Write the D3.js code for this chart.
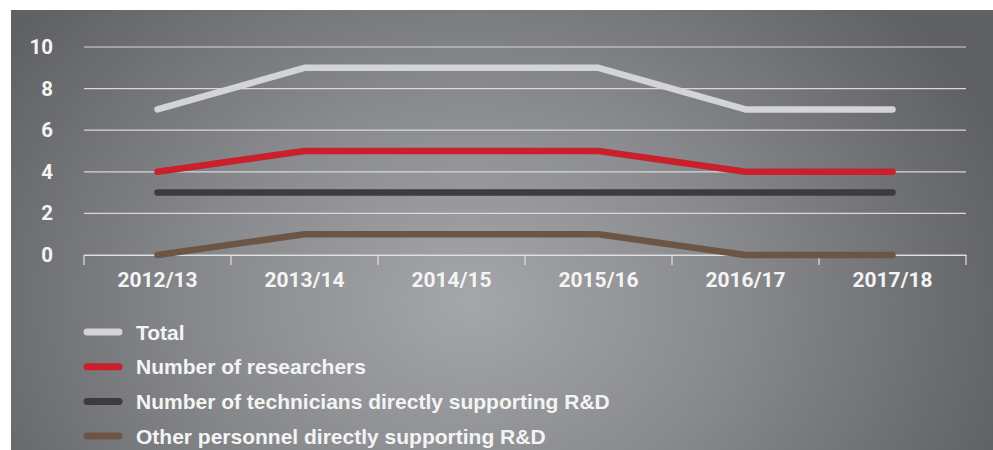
<!DOCTYPE html>
<html><head><meta charset="utf-8">
<script src="https://cdn.jsdelivr.net/npm/d3@7"></script>
<style>body{margin:0;background:#fff;}svg{display:block;}</style>
</head><body>
<script>
const categories = ["2012/13","2013/14","2014/15","2015/16","2016/17","2017/18"];
const seriesNames = ["Total","Number of researchers","Number of technicians directly supporting R&D","Other personnel directly supporting R&D"];
const totalValues = [7,9,9,9,7,7];
const researcherValues = [4,5,5,5,4,4];
const technicianValues = [3,3,3,3,3,3];
const otherValues = [0,1,1,1,0,0];
const yTicks = [0,2,4,6,8,10];
const colors = ["#d3d4d6","#c9202b","#3c3c3c","#6c5545"];

const series = [totalValues, researcherValues, technicianValues, otherValues];
const W = 993, H = 450;
const svg = d3.select("body").append("svg").attr("width", W).attr("height", H);
const defs = svg.append("defs");
const grad = defs.append("radialGradient").attr("id","bg")
  .attr("gradientUnits","userSpaceOnUse").attr("cx",470).attr("cy",300).attr("r",560)
  .attr("gradientTransform","translate(470,300) scale(1,0.8) translate(-470,-300)");
grad.append("stop").attr("offset","0").attr("stop-color","#a4a6a9");
grad.append("stop").attr("offset","0.45").attr("stop-color","#8a8b8f");
grad.append("stop").attr("offset","1").attr("stop-color","#606165");
svg.append("rect").attr("x",11).attr("y",10).attr("width",W-11).attr("height",H-10).attr("fill","url(#bg)");

const font = "Roboto, 'Liberation Sans', Arial, sans-serif";
const lfont = "'Liberation Sans', Arial, sans-serif";
const x = d3.scaleBand().domain(categories).range([84,966]);
const y = d3.scaleLinear().domain([0,10]).range([255,47]);

svg.append("g").selectAll("line").data(yTicks).join("line")
  .attr("x1",84).attr("x2",966).attr("y1",d=>y(d)).attr("y2",d=>y(d))
  .attr("stroke","#d8d8d8").attr("stroke-width",1.2);

svg.append("g").selectAll("text").data(yTicks).join("text")
  .attr("x",53).attr("y",d=>y(d)+7).attr("text-anchor","end")
  .attr("font-family",font).attr("font-weight","bold").attr("font-size",20.5)
  .attr("fill","#f4f4f4").text(d=>d);

const xAxis = d3.axisBottom(x).tickSize(10).tickSizeOuter(0).tickFormat(d=>d);
const gx = svg.append("g").attr("transform",`translate(0,${y(0)})`).call(xAxis);
gx.select(".domain").attr("stroke","#e0e0e0").attr("stroke-width",1.2);
gx.selectAll(".tick line").remove();
const bounds = categories.map(c=>x(c)).concat([x.range()[1]]);
gx.selectAll("line.b").data(bounds).join("line").attr("class","b")
  .attr("x1",d=>d).attr("x2",d=>d).attr("y1",0).attr("y2",10)
  .attr("stroke","#e0e0e0").attr("stroke-width",1.2);
gx.selectAll(".tick text").attr("font-family",font).attr("font-weight","bold")
  .attr("font-size",21).attr("fill","#f4f4f4").attr("dy","0").attr("y",32);

const line = d3.line().x((d,i)=>x(categories[i])+x.bandwidth()/2).y(d=>y(d));
svg.append("g").selectAll("path").data(series.map((s,i)=>({s,i})).reverse()).join("path")
  .attr("d",d=>line(d.s)).attr("fill","none").attr("stroke",d=>colors[d.i])
  .attr("stroke-width",6.5).attr("stroke-linecap","round").attr("stroke-linejoin","round");

const lg = svg.append("g").selectAll("g").data(seriesNames).join("g")
  .attr("transform",(d,i)=>`translate(0,${332+i*34.7})`);
lg.append("line").attr("x1",87).attr("x2",119).attr("y1",0).attr("y2",0)
  .attr("stroke",(d,i)=>colors[i]).attr("stroke-width",7).attr("stroke-linecap","round");
lg.append("text").attr("x",136).attr("y",7.5).attr("font-family",lfont).attr("font-weight","bold")
  .attr("font-size",21).attr("fill","#f4f4f4").text(d=>d);
</script>
</body></html>
